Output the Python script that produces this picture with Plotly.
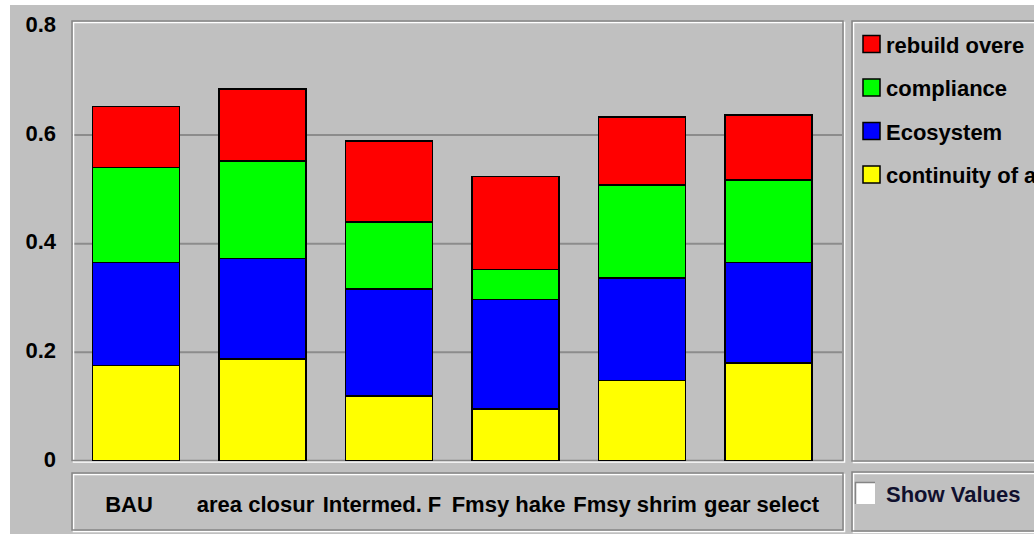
import plotly.graph_objects as go

# ---- data ----
categories = ["BAU", "area closur", "Intermed. F", "Fmsy hake", "Fmsy shrim", "gear select"]
continuity = [0.176, 0.188, 0.120, 0.096, 0.148, 0.180]
ecosystem = [0.189, 0.185, 0.197, 0.201, 0.189, 0.185]
compliance = [0.175, 0.179, 0.123, 0.056, 0.171, 0.152]
rebuild = [0.113, 0.133, 0.149, 0.171, 0.125, 0.120]
series_names = ["continuity of a", "Ecosystem", "compliance", "rebuild overe"]
series_values = [continuity, ecosystem, compliance, rebuild]
series_colors = ["#ffff00", "#0000ff", "#00ff00", "#ff0000"]
y_ticks = [0, 0.2, 0.4, 0.6, 0.8]
y_tick_labels = ["0", "0.2", "0.4", "0.6", "0.8"]
grid_values = [0.2, 0.4, 0.6]

# ---- geometry (pixels) ----
W, H = 1034, 534
L, R, T, B = 72, 842, 21, 461
BG = "#c0c0c0"
DARK = "#858585"
FONT = "Liberation Sans, Arial, sans-serif"


def fx(p):
    return (p - L) / (R - L)


def fy(p):
    return (B - p) / (B - T)


fig = go.Figure()
for name, vals, col in zip(series_names, series_values, series_colors):
    fig.add_trace(go.Bar(
        x=categories, y=vals, name=name,
        marker=dict(color=col, line=dict(color="#000000", width=1.5)),
        showlegend=False,
    ))

shapes = []
# white window edges
shapes.append(dict(type="rect", xref="paper", yref="paper", x0=fx(0), x1=fx(10), y0=fy(H), y1=fy(0),
                   fillcolor="white", line=dict(width=0), layer="below"))
shapes.append(dict(type="rect", xref="paper", yref="paper", x0=fx(0), x1=fx(W), y0=fy(5), y1=fy(0),
                   fillcolor="white", line=dict(width=0), layer="below"))
# gridlines
for g in grid_values:
    shapes.append(dict(type="line", xref="paper", yref="y", x0=0, x1=1, y0=g, y1=g,
                       line=dict(color="#8c8c8c", width=2), layer="below"))


def etched(x0, y0, x1, y1):
    out = []
    out.append(dict(type="rect", xref="paper", yref="paper", x0=fx(x0 + 1.5), x1=fx(x1 + 1.5),
                    y0=fy(y1 + 1.5), y1=fy(y0 + 1.5), line=dict(color="white", width=1.5),
                    fillcolor="rgba(0,0,0,0)", layer="below"))
    out.append(dict(type="rect", xref="paper", yref="paper", x0=fx(x0), x1=fx(x1),
                    y0=fy(y1), y1=fy(y0), line=dict(color=DARK, width=1.5),
                    fillcolor="rgba(0,0,0,0)", layer="below"))
    return out


shapes += etched(72, 21, 843, 460.5)
shapes += etched(72, 473, 843, 530)
shapes += etched(852, 21, 1045, 461)
shapes += etched(852, 472, 1045, 531)

annotations = []
# legend panel (top entry = last series)
row_y = [44, 87.5, 131, 174.5]
for i, (name, col) in enumerate(zip(reversed(series_names), reversed(series_colors))):
    cy = row_y[i]
    shapes.append(dict(type="rect", xref="paper", yref="paper", x0=fx(863), x1=fx(880),
                       y0=fy(cy + 8.5), y1=fy(cy - 8.5), fillcolor=col,
                       line=dict(color="#000000", width=1.5)))
    annotations.append(dict(xref="paper", yref="paper", x=fx(884), y=fy(cy + 1), text=name,
                            showarrow=False, xanchor="left", yanchor="middle",
                            font=dict(family=FONT, size=22, color="#000000", weight="bold")))

# "Show Values" checkbox
shapes.append(dict(type="rect", xref="paper", yref="paper", x0=fx(855), x1=fx(875),
                   y0=fy(504), y1=fy(482), fillcolor="white", line=dict(width=0)))
shapes.append(dict(type="path", xref="paper", yref="paper",
                   path="M {a},{b} L {a},{c} L {d},{c}".format(a=fx(855.5), b=fy(504), c=fy(482.5), d=fx(875)),
                   line=dict(color=DARK, width=1.5)))
annotations.append(dict(xref="paper", yref="paper", x=fx(884), y=fy(494), text="Show Values",
                        showarrow=False, xanchor="left", yanchor="middle",
                        font=dict(family=FONT, size=22, color="#10102e", weight="bold")))

fig.update_layout(
    width=W, height=H, autosize=False,
    margin=dict(l=L, r=W - R, t=T, b=H - B, pad=0),
    paper_bgcolor=BG, plot_bgcolor="rgba(0,0,0,0)",
    barmode="stack", bargap=0.315,
    shapes=shapes, annotations=annotations,
    xaxis=dict(type="category", range=[-0.506, 5.581], showgrid=False, zeroline=False,
               showline=False, ticks="", ticklabelstandoff=28, ticklabelshift=-7,
               tickangle=0, automargin=False,
               tickfont=dict(family=FONT, size=22, color="#000000", weight="bold"),
               fixedrange=True),
    yaxis=dict(range=[0, 0.81], tickvals=y_ticks, ticktext=y_tick_labels, showgrid=False,
               zeroline=False, showline=False, ticks="", ticklabelstandoff=15,
               ticklabelshift=-2, automargin=False,
               tickfont=dict(family=FONT, size=22, color="#000000", weight="bold"),
               fixedrange=True),
    showlegend=False,
)

fig.write_html("out.html", config={"displayModeBar": False},
               post_script="document.body.style.margin='0';")
